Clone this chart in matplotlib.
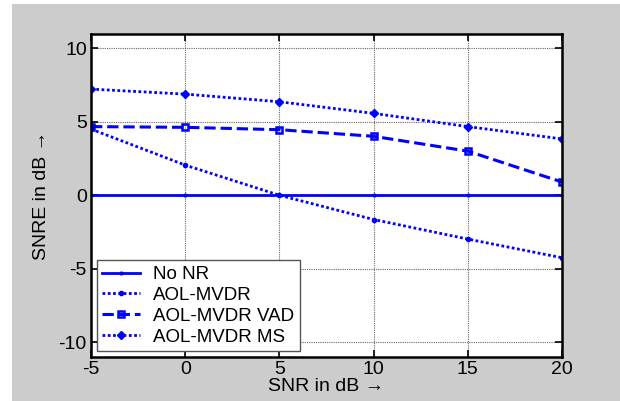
import matplotlib
matplotlib.use('Agg')
import matplotlib.pyplot as plt
from matplotlib.patches import Rectangle

plt.rcParams['font.family'] = ['Liberation Sans', 'DejaVu Sans']
plt.rcParams['axes.unicode_minus'] = False

# data
snr = [-5, 0, 5, 10, 15, 20]
no_nr = [0, 0, 0, 0, 0, 0]
aol_mvdr = [4.5, 2.05, 0.0, -1.65, -2.98, -4.25]
aol_mvdr_vad = [4.67, 4.62, 4.46, 4.01, 3.0, 0.9]
aol_mvdr_ms = [7.22, 6.88, 6.36, 5.57, 4.67, 3.83]
labels = ['No NR', 'AOL-MVDR', 'AOL-MVDR VAD', 'AOL-MVDR MS']

fig = plt.figure(figsize=(6.2, 4.01), dpi=100, facecolor='#cccccc')
# white strips on left and top edge of the scan
fig.patches.append(Rectangle((0, 0), 12 / 620, 1, transform=fig.transFigure,
                             facecolor='white', edgecolor='none', zorder=0))
fig.patches.append(Rectangle((0, 1 - 4 / 401), 1, 4 / 401, transform=fig.transFigure,
                             facecolor='white', edgecolor='none', zorder=0))

ax = fig.add_axes([0.1468, 0.1097, 0.7597, 0.8067])
blue = '#0000ff'
dots = (0, (1, 0.9))
ax.plot(snr, no_nr, '-', color=blue, lw=2, marker='.', ms=4, label=labels[0])
ax.plot(snr, aol_mvdr, linestyle=dots, color=blue, lw=2, marker='.', ms=6, label=labels[1])
ax.plot(snr, aol_mvdr_vad, '--', color=blue, lw=2.2, marker='s', ms=5,
        mfc='none', mew=1.8, label=labels[2])
ax.plot(snr, aol_mvdr_ms, linestyle=dots, color=blue, lw=2, marker='D', ms=4.5,
        label=labels[3])

ax.set_xlim(-5, 20)
ax.set_ylim(-11, 11)
ax.set_xticks([-5, 0, 5, 10, 15, 20])
ax.set_yticks([-10, -5, 0, 5, 10])
ax.grid(True, linestyle=(0, (1, 1)), color='#666666', lw=0.8)
ax.tick_params(direction='in', top=True, right=True, labelsize=14, length=5,
               width=1.2, pad=3)
for s in ax.spines.values():
    s.set_linewidth(1.8)

ax.set_xlabel('SNR in dB \u2192', fontsize=14, labelpad=0)
ax.set_ylabel('SNRE in dB \u2192', fontsize=14, labelpad=6)

leg = ax.legend(loc='lower left', fontsize=13.5, handlelength=2.0, borderaxespad=0.3,
                labelspacing=0.2, borderpad=0.3, handletextpad=0.7, fancybox=False)
leg.get_frame().set_edgecolor('#555555')
leg.get_frame().set_linewidth(1.0)
leg.get_frame().set_alpha(1)

fig.savefig('out.png', dpi=100, facecolor=fig.get_facecolor())
